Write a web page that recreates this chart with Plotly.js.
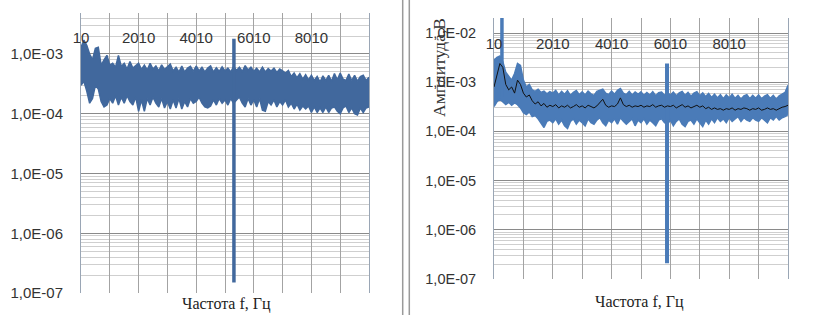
<!DOCTYPE html>
<html><head><meta charset="utf-8">
<script src="https://cdn.plot.ly/plotly-3.0.1.min.js"></script>
<style>html,body{margin:0;padding:0;background:#fff}#c{width:821px;height:315px}</style>
</head><body><div id="c"></div>
<script>
// ---- data (frequency in Hz, amplitude in V) ----
const freqs = [];
for (let i = 0; i <= 100; i++) freqs.push(10 + 100 * i);

const leftUpper = [1.3e-3,1.7e-3,1.4e-3,1.0e-3,8e-4,1.25e-3,1.3e-3,6.5e-4,8e-4,9.5e-4,
6.5e-4,7e-4,6e-4,9.5e-4,6.2e-4,7e-4,5.6e-4,7.5e-4,5.8e-4,6.5e-4,
7e-4,5.5e-4,6.5e-4,5.4e-4,7e-4,5.6e-4,6.3e-4,5.2e-4,6.6e-4,5.5e-4,
6.2e-4,6.8e-4,5.2e-4,6e-4,5e-4,6.3e-4,5e-4,5.8e-4,6.2e-4,5.1e-4,
6.3e-4,5.2e-4,6e-4,5e-4,5.8e-4,6.3e-4,5e-4,5.9e-4,5.1e-4,6.1e-4,
5.2e-4,5.8e-4,5e-4,6.2e-4,5.3e-4,6e-4,5.1e-4,6.4e-4,5.4e-4,6e-4,
5.1e-4,5.8e-4,5e-4,6e-4,5e-4,5.7e-4,5.2e-4,5.8e-4,4.9e-4,5.6e-4,
5.2e-4,4.8e-4,5.3e-4,4.2e-4,4.8e-4,4e-4,4.7e-4,3.8e-4,4.5e-4,3.7e-4,
4.4e-4,3.6e-4,4.2e-4,3.4e-4,4.3e-4,3.6e-4,4.4e-4,3.5e-4,4.7e-4,3.7e-4,
4.8e-4,3.8e-4,3.6e-4,4.6e-4,3.6e-4,4.4e-4,3.5e-4,4.2e-4,4.4e-4,3.6e-4,4.1e-4];

const leftLower = [3e-4,3.5e-4,2.4e-4,1.5e-4,1.8e-4,3e-4,2.6e-4,1.6e-4,1.3e-4,1.4e-4,
1.8e-4,1.5e-4,2e-4,1.4e-4,1.9e-4,1.5e-4,2e-4,1.6e-4,1.4e-4,1.9e-4,
1.1e-4,1.7e-4,1.1e-4,1.8e-4,1.4e-4,1.9e-4,1.5e-4,1.3e-4,1.8e-4,1.25e-4,
1.6e-4,1.2e-4,1.7e-4,1.25e-4,1.8e-4,1.2e-4,1.6e-4,1.3e-4,1.8e-4,1.5e-4,
1.6e-4,1.9e-4,1.5e-4,1.3e-4,1.25e-4,1.35e-4,1.7e-4,1.4e-4,1.8e-4,1.5e-4,
1.7e-4,1.4e-4,1.8e-4,1.5e-4,1.7e-4,1.9e-4,1.5e-4,1.3e-4,1.8e-4,1.4e-4,
1.7e-4,1.3e-4,1.8e-4,1.15e-4,1.1e-4,1.6e-4,1.4e-4,1.7e-4,1.3e-4,1.6e-4,
1.4e-4,1.7e-4,1.3e-4,1.5e-4,1.2e-4,1.45e-4,1.15e-4,1.35e-4,1.2e-4,1.35e-4,
1.05e-4,1.3e-4,1.05e-4,1.25e-4,1.05e-4,1.3e-4,1.05e-4,1.25e-4,1.3e-4,1.1e-4,
1e-4,1.25e-4,1.35e-4,1.05e-4,1.25e-4,1e-4,9.5e-5,1.25e-4,1.05e-4,1.25e-4,1.3e-4];

const leftSpikeFreq = [5320, 5320];
const leftSpikeAmp = [1.8e-3, 1.5e-7];

const rightUpper = [2.8e-3,3.2e-3,3.4e-3,2.6e-3,1.6e-3,1.3e-3,1.1e-3,1.5e-3,2.4e-3,2.2e-3,
1.1e-3,8e-4,9e-4,7e-4,6.5e-4,7.2e-4,6.2e-4,6.6e-4,5.8e-4,6.4e-4,
6e-4,6.8e-4,5.5e-4,6.5e-4,5.7e-4,6.7e-4,5.4e-4,6.2e-4,6.8e-4,5.6e-4,
6.4e-4,5.5e-4,6.6e-4,5.8e-4,5.4e-4,6.5e-4,6.9e-4,7.2e-4,6e-4,5.6e-4,
6.6e-4,5.7e-4,6.8e-4,7.4e-4,6e-4,5.6e-4,6.5e-4,5.5e-4,6.3e-4,5.7e-4,
6.4e-4,5.4e-4,6.2e-4,5.5e-4,6.4e-4,5.3e-4,6.1e-4,6.3e-4,5.4e-4,6.2e-4,
5.5e-4,6.3e-4,5.3e-4,6.1e-4,6.5e-4,5.4e-4,6.2e-4,5.2e-4,6e-4,6.4e-4,
5.3e-4,6.1e-4,5.1e-4,5.9e-4,4.9e-4,5.7e-4,4.8e-4,5.6e-4,4.6e-4,5.5e-4,
4.8e-4,5.7e-4,4.7e-4,5.4e-4,4.5e-4,5.3e-4,5.6e-4,4.6e-4,5.4e-4,4.7e-4,
5.5e-4,4.6e-4,5.2e-4,5.6e-4,4.7e-4,5.4e-4,4.5e-4,5.3e-4,5.7e-4,6.2e-4,8.7e-4];

const rightLower = [3.2e-4,4e-4,4.5e-4,4e-4,3.5e-4,3.9e-4,3.4e-4,3.8e-4,3.5e-4,3e-4,
2.4e-4,2.2e-4,2.5e-4,2e-4,2.1e-4,1.8e-4,1.5e-4,1.2e-4,1.6e-4,1.7e-4,
1.5e-4,1.8e-4,1.4e-4,1.7e-4,1.3e-4,1.15e-4,1.6e-4,1.8e-4,1.4e-4,1.7e-4,
1.5e-4,1.3e-4,1.8e-4,1.5e-4,1.4e-4,1.7e-4,1.9e-4,1.5e-4,1.3e-4,1.7e-4,
1.5e-4,1.8e-4,1.4e-4,1.9e-4,1.6e-4,1.4e-4,1.6e-4,1.8e-4,1.3e-4,1.7e-4,
1.5e-4,1.8e-4,1.4e-4,1.7e-4,1.5e-4,1.3e-4,1.7e-4,1.8e-4,1.5e-4,1.4e-4,
1.7e-4,1.3e-4,1.6e-4,1.8e-4,1.4e-4,1.25e-4,1.6e-4,1.7e-4,1.4e-4,1.8e-4,
1.5e-4,1.25e-4,1.7e-4,1.4e-4,1.8e-4,1.5e-4,1.9e-4,1.6e-4,1.8e-4,1.5e-4,
1.9e-4,1.6e-4,1.8e-4,2e-4,1.6e-4,1.9e-4,1.7e-4,1.6e-4,1.9e-4,1.7e-4,
1.6e-4,1.9e-4,1.7e-4,1.5e-4,1.9e-4,1.7e-4,2e-4,1.7e-4,1.9e-4,2e-4,2.2e-4];

const rightMean = [8e-4,1.4e-3,2.4e-3,2e-3,9e-4,7e-4,8e-4,6e-4,1.1e-3,9e-4,
6e-4,5e-4,5.5e-4,4.2e-4,3.6e-4,4e-4,3.3e-4,3.7e-4,3.1e-4,3.4e-4,
3.2e-4,3.5e-4,3e-4,3.3e-4,3.1e-4,3.4e-4,3e-4,3.2e-4,3.5e-4,3.1e-4,
3.3e-4,3e-4,3.4e-4,3.2e-4,3e-4,3.3e-4,3.8e-4,4.5e-4,3.4e-4,3.1e-4,
3.3e-4,3.2e-4,3.6e-4,4.8e-4,3.5e-4,3.2e-4,3.4e-4,3.1e-4,3.3e-4,3.2e-4,
3.4e-4,3.1e-4,3.3e-4,3.2e-4,3.5e-4,3.1e-4,3.3e-4,3.4e-4,3.1e-4,3.3e-4,
3.2e-4,3.4e-4,3e-4,3.3e-4,3.5e-4,3.1e-4,3.3e-4,3e-4,3.2e-4,3.4e-4,
3.1e-4,3.3e-4,2.9e-4,3.1e-4,2.8e-4,3e-4,2.8e-4,2.9e-4,2.7e-4,2.9e-4,
2.8e-4,3e-4,2.7e-4,2.9e-4,2.8e-4,3e-4,2.9e-4,2.7e-4,2.9e-4,2.8e-4,
3e-4,2.7e-4,2.8e-4,3e-4,2.8e-4,2.9e-4,2.7e-4,2.9e-4,3.1e-4,3.2e-4,3.4e-4];

const rightLowPeakFreq = [280, 280];
const rightLowPeakAmp = [5e-4, 3e-2];
const rightSpikeFreq = [5895, 5895];
const rightSpikeAmp = [2.4e-3, 2.1e-7];

const xTickVals = [10,1010,2010,3010,4010,5010,6010,7010,8010,9010,10010];
const xTickText = ['10','','2010','','4010','','6010','','8010','',''];
const yTickVals = [1e-7,1e-6,1e-5,1e-4,1e-3,1e-2];
const yTickText = ['1,0E-07','1,0E-06','1,0E-05','1,0E-04','1,0E-03','1,0E-02'];
const xTitle = 'Частота f, Гц';
const yTitleRight = 'Амплитуда,В';

// ---- build ----
const blueL = '#41689d', blueR = '#4a7bb8';
const minorVals = [];
for (let e = -8; e <= -1; e++) for (let m = 2; m <= 9; m++) minorVals.push(m * Math.pow(10, e));

function band(xa, ya, up, lo, col) {
  return [
    {x: freqs, y: lo, xaxis: xa, yaxis: ya, type: 'scatter', mode: 'lines',
     line: {color: col, width: 1.5}, hoverinfo: 'skip'},
    {x: freqs, y: up, xaxis: xa, yaxis: ya, type: 'scatter', mode: 'lines',
     line: {color: col, width: 1.5}, fill: 'tonexty', fillcolor: col, hoverinfo: 'skip'}
  ];
}
const traces = [].concat(
  band('x', 'y', leftUpper, leftLower, blueL),
  [{x: leftSpikeFreq, y: leftSpikeAmp, xaxis: 'x', yaxis: 'y', type: 'scatter', mode: 'lines',
    line: {color: blueL, width: 3.5}}],
  band('x2', 'y2', rightUpper, rightLower, blueR),
  [{x: rightLowPeakFreq, y: rightLowPeakAmp, xaxis: 'x2', yaxis: 'y2', type: 'scatter', mode: 'lines',
    line: {color: blueR, width: 3.5}},
   {x: rightSpikeFreq, y: rightSpikeAmp, xaxis: 'x2', yaxis: 'y2', type: 'scatter', mode: 'lines',
    line: {color: blueR, width: 4}},
   {x: freqs, y: rightMean, xaxis: 'x2', yaxis: 'y2', type: 'scatter', mode: 'lines',
    line: {color: '#111111', width: 1}}]
);

const tickFont = {family: 'Liberation Sans, Arial, sans-serif', size: 15, color: '#333'};
function xax(dom, pos) {
  return {domain: dom, anchor: 'free', position: pos, range: [10, 10010], side: 'top',
    tickmode: 'array', tickvals: xTickVals, ticktext: xTickText, ticks: '',
    showgrid: true, gridcolor: '#a3a3a3', gridwidth: 1, zeroline: false, showline: false,
    tickfont: tickFont, fixedrange: true};
}
function yax(dom, anchor, rng, fs) {
  return {domain: dom, anchor: anchor, type: 'log', range: rng,
    tickmode: 'array', tickvals: yTickVals, ticktext: yTickText, ticks: '',
    ticklabelstandoff: 14,
    showgrid: true, gridcolor: '#8a8a8a', gridwidth: 1,
    minor: {tickmode: 'array', tickvals: minorVals, showgrid: true, gridcolor: '#cfcfcf', gridwidth: 1, ticks: ''},
    showline: true, mirror: true, linecolor: '#9aa6b5', linewidth: 1, zeroline: false,
    tickfont: Object.assign({}, tickFont, {size: fs}), fixedrange: true};
}

const layout = {
  width: 821, height: 315, margin: {l: 0, r: 0, t: 0, b: 0},
  paper_bgcolor: '#fff', plot_bgcolor: '#fff', showlegend: false,
  xaxis: xax([81/821, 369/821], 1 - 46/315),
  yaxis: yax([22/315, 302/315], 'x', [-7, -2.314], 15),
  xaxis2: xax([494/821, 788/821], 1 - 52/315),
  yaxis2: yax([36/315, 297/315], 'x2', [-7, -1.695], 14.5),
  shapes: [
    {type: 'line', xref: 'paper', yref: 'paper', x0: 402.7/821, x1: 402.7/821, y0: 0, y1: 1, line: {color: '#9a9a9a', width: 1.5}},
    {type: 'line', xref: 'paper', yref: 'paper', x0: 409.3/821, x1: 409.3/821, y0: 0, y1: 1, line: {color: '#9a9a9a', width: 1.5}}
  ],
  annotations: [
    {text: xTitle, xref: 'paper', yref: 'paper', x: 226/821, y: 1 - 304/315, showarrow: false,
     xanchor: 'center', yanchor: 'middle', font: {family: 'Liberation Serif, Times New Roman, serif', size: 16, color: '#222'}},
    {text: xTitle, xref: 'paper', yref: 'paper', x: 639/821, y: 1 - 302/315, showarrow: false,
     xanchor: 'center', yanchor: 'middle', font: {family: 'Liberation Serif, Times New Roman, serif', size: 16, color: '#222'}},
    {text: yTitleRight, xref: 'paper', yref: 'paper', x: 439/821, y: 1 - 68/315, showarrow: false, textangle: -90,
     xanchor: 'center', yanchor: 'middle', font: {family: 'Liberation Serif, Times New Roman, serif', size: 17.5, color: '#333'}}
  ]
};
Plotly.newPlot('c', traces, layout, {staticPlot: true, displayModeBar: false});
</script></body></html>
